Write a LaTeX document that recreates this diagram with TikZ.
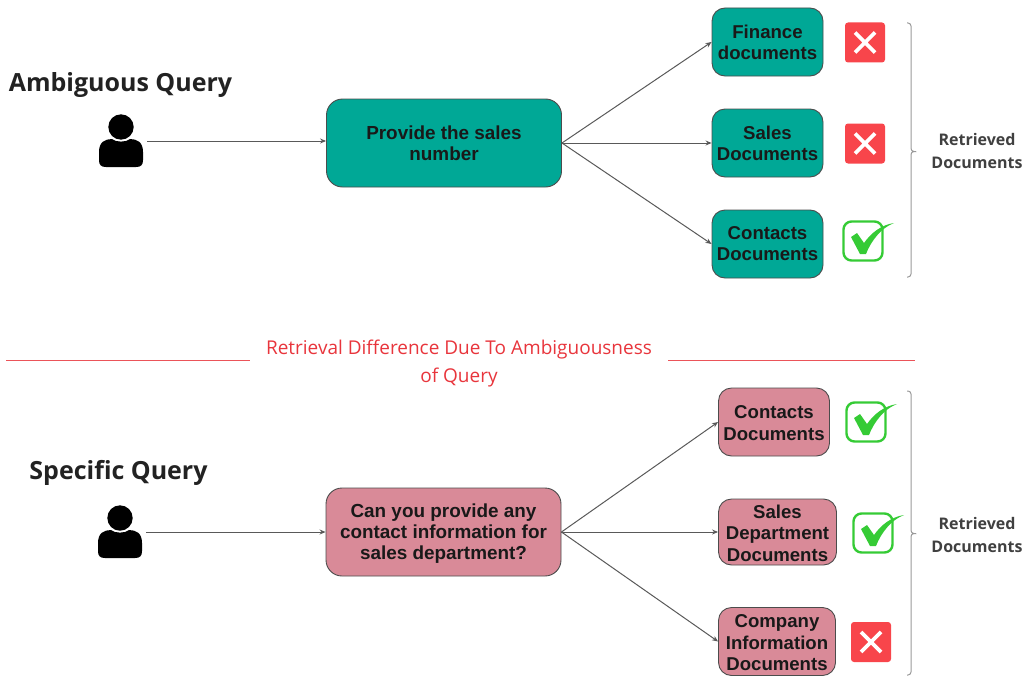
\documentclass[tikz,border=0pt]{standalone}
\usepackage{fontspec}
\setmainfont{Open Sans}
\newfontfamily\boxfont{Liberation Sans}
\usetikzlibrary{arrows.meta}
\definecolor{teal}{HTML}{00A896}
\definecolor{rosebox}{HTML}{D98A98}
\definecolor{badred}{HTML}{F8454B}
\definecolor{okgreen}{HTML}{35CB35}
\definecolor{redtxt}{HTML}{E8353C}
\definecolor{inktxt}{HTML}{222222}
\newcommand\nudgetext{\rule{0pt}{15.5pt}}
\tikzset{
  x=1pt,y=-1pt,
  boxbase/.style={draw=black!70,line width=0.9pt,rounded corners=13pt,align=center,inner sep=0pt,
    font=\boxfont\fontsize{18.6}{21}\bfseries,text=black!90},
  tealbox/.style={boxbase,fill=teal},
  rosybox/.style={boxbase,fill=rosebox,font=\boxfont\fontsize{18.6}{21.5}\bfseries},
  querybox/.style={minimum width=235pt,minimum height=88pt,rounded corners=16pt,font=\boxfont\fontsize{18.9}{21}\bfseries},
  conn/.style={draw=black!65,line width=1pt,-{Stealth[length=6pt,width=5pt]}},
  title/.style={font=\fontsize{25}{30}\selectfont\bfseries,text=inktxt,anchor=center,inner sep=0pt},
  side/.style={font=\fontsize{16}{23}\selectfont\bfseries,text=black!75,align=center,inner sep=0pt},
  redline/.style={draw=redtxt!85,line width=0.9pt},
  bracestroke/.style={draw=black!40,line width=1pt,rounded corners=3pt},
  pics/cross/.style={code={
    \fill[badred,rounded corners=3pt] (-20,-20) rectangle (20,20);
    \draw[white,line width=3.6pt] (-10,-10) -- (10,10) (-10,10) -- (10,-10);
  }},
  pics/tick/.style={code={
    \draw[okgreen,line width=2.4pt,rounded corners=8pt] (-19.5,-19.5) rectangle (19.5,19.5);
    \fill[okgreen] (-12,-4) -- (-6,-8) -- (1,2) .. controls (8,-8) and (18,-16) .. (31,-18)
      .. controls (18,-13) and (8,0) .. (3,13) -- (-3,13) -- cycle;
  }},
  pics/person/.style={code={
    \fill[black] (0,-13) circle (12.7);
    \fill[black] (-22,12) .. controls (-22,2) and (-16,-1) .. (-9,-1)
      .. controls (-5,2.5) and (5,2.5) .. (9,-1)
      .. controls (16,-1) and (22,2) .. (22,12) -- (22,20)
      .. controls (22,25) and (20,27) .. (15,27) -- (-15,27)
      .. controls (-20,27) and (-22,25) .. (-22,20) -- cycle;
  }}
}
\begin{document}
\begin{tikzpicture}
\useasboundingbox (0,0) rectangle (1027,677);
% top
\node[title] (t1) at (120.5,85) {Ambiguous Query};
\pic at (121,140) {person};
\coordinate (p1) at (147,141);
\node[tealbox,querybox] (q1) at (444,143) {Provide the sales\\number};
\node[tealbox,minimum width=111pt,minimum height=68pt] (a1) at (767.5,42) {Finance\\documents};
\node[tealbox,minimum width=111pt,minimum height=68pt] (a2) at (767.5,143) {Sales\\Documents};
\node[tealbox,minimum width=111pt,minimum height=68pt] (a3) at (767.5,244) {Contacts\\Documents};
\draw[conn] (p1) -- (q1.west |- p1);
\draw[conn] (q1.east) -- (a1.west);
\draw[conn] (q1.east) -- (a2.west);
\draw[conn] (q1.east) -- (a3.west);
\pic at (865,42.5) {cross};
\pic at (865,143.5) {cross};
\pic at (863,241) {tick};
\draw[bracestroke] (907,23) -- (911,23) -- (911,151.5) -- (916,151.5) -- (911,151.5) -- (911,277) -- (907,277);
\node[side] (s1) at (977,151) {Retrieved\\Documents};
% middle
\coordinate (l1a) at (6,360);
\coordinate (l1b) at (250,360);
\coordinate (l2a) at (668,360);
\coordinate (l2b) at (915,360);
\draw[redline] (l1a) -- (l1b);
\draw[redline] (l2a) -- (l2b);
\node[font=\fontsize{19}{28}\selectfont,text=redtxt,align=center,inner sep=0pt] (mid) at (459,364) {Retrieval Difference Due To Ambiguousness\\of Query};
% bottom
\node[title] (t2) at (118.5,473) {Specific Query};
\pic at (120,531) {person};
\coordinate (p2) at (146,532);
\node[rosybox,querybox] (q2) at (443.5,532) {\rule{0pt}{17.5pt}Can you provide any\\contact information for\\sales department?};
\node[rosybox,minimum width=111pt,minimum height=68pt] (b1) at (774,422) {\nudgetext Contacts\\Documents};
\node[rosybox,minimum width=118pt,minimum height=66pt] (b2) at (777.5,532) {\nudgetext Sales\\Department\\Documents};
\node[rosybox,minimum width=117pt,minimum height=68pt] (b3) at (777,641.5) {\nudgetext Company\\Information\\Documents};
\draw[conn] (p2) -- (q2.west |- p2);
\draw[conn] (q2.east) -- (b1.west);
\draw[conn] (q2.east) -- (b2.west);
\draw[conn] (q2.east) -- (b3.west);
\pic at (866,422) {tick};
\pic at (873,533) {tick};
\pic at (871,642) {cross};
\draw[bracestroke] (907,391) -- (911,391) -- (911,533.5) -- (916,533.5) -- (911,533.5) -- (911,675) -- (907,675);
\node[side] (s2) at (977,534.5) {Retrieved\\Documents};
\end{tikzpicture}
\end{document}
